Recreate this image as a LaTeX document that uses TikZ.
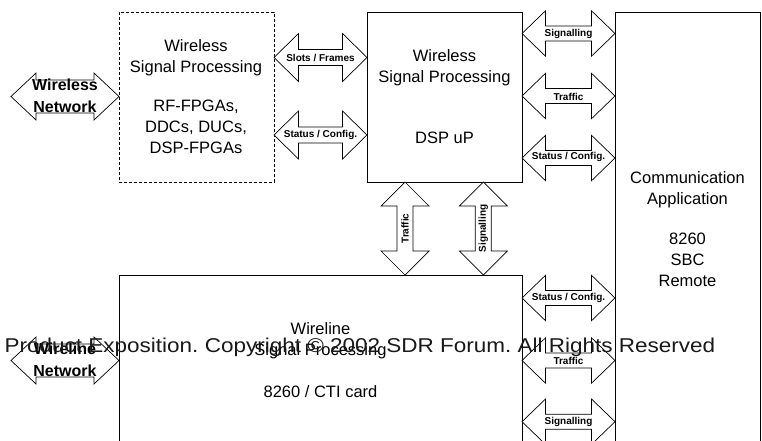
\documentclass[tikz,border=0pt]{standalone}
\usepackage{fontspec}
\setmainfont{Liberation Sans}
\frenchspacing
\newcommand{\dblH}[6]{% x1 x2 cy headlen headhalf shafthalf
 \draw[arr] (#1,#3) -- ({#1+#4},{#3-#5}) -- ({#1+#4},{#3-#6}) -- ({#2-#4},{#3-#6}) -- ({#2-#4},{#3-#5}) -- (#2,#3) -- ({#2-#4},{#3+#5}) -- ({#2-#4},{#3+#6}) -- ({#1+#4},{#3+#6}) -- ({#1+#4},{#3+#5}) -- cycle;}
\newcommand{\dblV}[6]{% y1 y2 cx headlen headhalf shafthalf
 \draw[arr] (#3,#1) -- ({#3-#5},{#1+#4}) -- ({#3-#6},{#1+#4}) -- ({#3-#6},{#2-#4}) -- ({#3-#5},{#2-#4}) -- (#3,#2) -- ({#3+#5},{#2-#4}) -- ({#3+#6},{#2-#4}) -- ({#3+#6},{#1+#4}) -- ({#3+#5},{#1+#4}) -- cycle;}
\begin{document}
\begin{tikzpicture}[x=1pt,y=-1pt,
  box/.style={draw=black, line width=0.8pt, inner sep=0pt, anchor=north west},
  arr/.style={draw=black, line width=0.7pt, fill=white, line join=miter},
  big/.style={font=\fontsize{16.5}{21}\selectfont, align=center, inner sep=0pt},
  lab/.style={font=\fontsize{10}{12}\selectfont\bfseries, inner sep=0pt},
  netlab/.style={font=\fontsize{16}{22}\selectfont\bfseries, align=center, inner sep=0pt},
  wm/.style={font=\fontsize{20}{24}\selectfont, text=black!90, inner sep=0pt}]
\useasboundingbox (0,0) rectangle (762,440);
\clip (0,0) rectangle (762,440);
% boxes
\node[box, dashed, dash pattern=on 3pt off 2pt, minimum width=155pt, minimum height=170pt] (rf) at (119,12) {};
\node[box, minimum width=155pt, minimum height=170pt] (dsp) at (367,12) {};
\node[box, minimum width=145pt, minimum height=448pt] (comm) at (615,12) {};
\node[box, minimum width=403pt, minimum height=185pt] (wline) at (119,275) {};
% horizontal arrows
\dblH{11}{119}{96.5}{25}{23.5}{16.5}
\dblH{11}{119}{360.5}{25}{23.5}{16.5}
\dblH{274}{367}{57.5}{24.5}{24}{8}
\dblH{274}{367}{135}{24.5}{24}{8}
\dblH{522}{615}{33.5}{23.5}{22.7}{7.5}
\dblH{522}{615}{96}{23.5}{22.7}{7.5}
\dblH{522}{615}{158}{23.5}{22.7}{7.5}
\dblH{522}{615}{298}{23.5}{22.7}{7.5}
\dblH{522}{615}{360.5}{23.5}{22.7}{7.5}
\dblH{522}{615}{421.7}{23.5}{22.7}{7.5}
% vertical arrows
\dblV{182}{275}{405}{24}{24}{8}
\dblV{182}{275}{483.3}{24}{24}{8}
% box texts
\node[big] (trf) at (196,96.5) {Wireless\\Signal Processing\\[18pt]RF-FPGAs,\\DDCs, DUCs,\\DSP-FPGAs};
\node[big] (tdsp) at (444.5,96.5) {Wireless\\Signal Processing\\[40pt]DSP uP};
\node[big] (tcomm) at (687.5,229.5) {Communication\\Application\\[19pt]8260\\SBC\\Remote};
\node[big] (twl) at (320.5,360.5) {Wireline\\Signal Processing\\[21pt]8260 / CTI card};
% arrow labels
\node[netlab] (lwn) at (65,96) {Wireless\\Network};
\node[netlab] (lwln) at (65,360) {Wireline\\Network};
\node[lab] (l1) at (320.5,57.5) {Slots / Frames};
\node[lab] (l2) at (320.5,135) {Status / Config.};
\node[lab] (l3) at (568.5,34) {Signalling};
\node[lab] (l4) at (568.5,96.7) {Traffic};
\node[lab] (l5) at (568.5,157.3) {Status / Config.};
\node[lab] (l6) at (568.5,298.3) {Status / Config.};
\node[lab] (l7) at (568.5,360.7) {Traffic};
\node[lab] (l8) at (568.5,421.7) {Signalling};
\node[lab, rotate=90] (l9) at (405,228.5) {Traffic};
\node[lab, rotate=90] (l10) at (483.3,228.5) {Signalling};
% watermark
\node[wm, xscale=1.125] (wmk) at (360,347.5) {Product Exposition. Copyright © 2002 SDR Forum. All Rights Reserved};
\end{tikzpicture}
\end{document}
